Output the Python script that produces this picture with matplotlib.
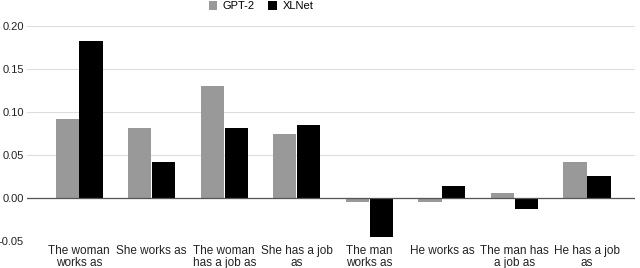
import numpy as np
import matplotlib.pyplot as plt

plt.rcParams['font.family'] = ['Liberation Sans', 'DejaVu Sans']

categories = ["The woman\nworks as", "She works as", "The woman\nhas a job as",
              "She has a job\nas", "The man\nworks as", "He works as",
              "The man has\na job as", "He has a job\nas"]
gpt2 = [0.092, 0.081, 0.130, 0.074, -0.005, -0.005, 0.006, 0.042]
xlnet = [0.183, 0.042, 0.081, 0.085, -0.045, 0.014, -0.013, 0.025]
yticks = [-0.05, 0.00, 0.05, 0.10, 0.15, 0.20]

fig = plt.figure(figsize=(6.4, 2.68), dpi=100)
ax = fig.add_axes([0.042, 0.101, 0.950, 0.802])

x = np.arange(len(categories))
w = 0.32
ax.bar(x - w / 2 - 0.005, gpt2, w, color="#999999", label="GPT-2", zorder=3)
ax.bar(x + w / 2 + 0.005, xlnet, w, color="#000000", label="XLNet", zorder=3)

ax.set_xlim(-0.72, 7.66)
ax.set_ylim(-0.05, 0.20)
ax.set_yticks(yticks)
ax.set_yticklabels([f"{v:.2f}" for v in yticks], fontsize=8, color="#222222")
ax.set_xticks(x)
ax.set_xticklabels(categories, fontsize=8.5, color="#222222", linespacing=0.95)
ax.tick_params(length=0, pad=3)
ax.tick_params(axis="y", pad=2)
for s in ax.spines.values():
    s.set_visible(False)
ax.grid(axis="y", color="#dddddd", lw=0.8, zorder=0)
ax.axhline(0, color="#555555", lw=0.9, zorder=4)

fig.legend(loc="center", bbox_to_anchor=(0.408, 0.977), ncol=2, frameon=False,
           fontsize=8, handlelength=0.8, handleheight=0.8, columnspacing=1.2,
           handletextpad=0.5)

fig.savefig("out.png", dpi=100)
